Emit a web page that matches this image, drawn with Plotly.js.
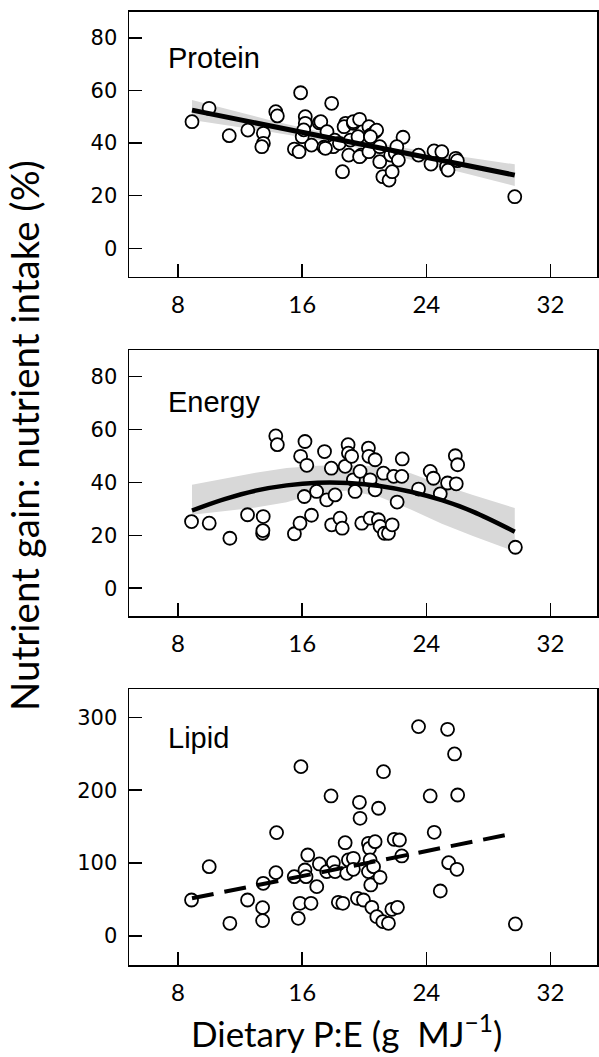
<!DOCTYPE html>
<html>
<head>
<meta charset="utf-8">
<script src="https://cdn.plot.ly/plotly-3.0.1.min.js"></script>
<style>
  html, body { margin: 0; padding: 0; background: #ffffff; }
  #chart { width: 599px; height: 1057px; }
</style>
</head>
<body>
<div id="chart"></div>
<script>
// ---------- Data ----------
const xTickVals = [8, 16, 24, 32];
const pctTickVals = [0, 20, 40, 60, 80];
const lipidTickVals = [0, 100, 200, 300];
const panelLabels = ["Protein", "Energy", "Lipid"];

// Protein panel
const proteinX = [8.9, 10.0, 11.3, 12.5, 13.5, 13.5, 13.4, 14.3, 14.4, 15.5, 15.8, 15.9, 16.0, 16.2, 16.2, 16.1, 16.6, 17.1, 17.2, 17.4, 17.6, 17.9, 18.1, 18.0, 17.5, 18.4, 18.8, 18.6, 18.7, 19.0, 19.1, 19.3, 19.3, 19.7, 19.6, 19.8, 19.7, 20.3, 20.4, 20.7, 20.3, 20.8, 20.4, 21.0, 21.0, 21.2, 21.6, 21.7, 21.8, 22.0, 22.2, 22.5, 22.1, 23.5, 24.3, 24.5, 25.0, 25.3, 25.4, 25.9, 26.0, 29.7];
const proteinY = [48.1, 53.2, 42.8, 44.9, 43.7, 39.9, 38.6, 51.9, 50.3, 37.7, 36.7, 59.1, 42.4, 50.0, 47.5, 45.0, 39.2, 47.7, 48.1, 38.4, 44.3, 55.1, 41.1, 38.6, 38.0, 39.9, 47.5, 29.1, 46.2, 35.4, 41.1, 47.5, 48.1, 49.0, 42.4, 35.4, 34.8, 46.2, 43.0, 44.3, 36.7, 44.9, 42.4, 38.6, 32.9, 27.2, 25.9, 35.4, 29.1, 36.1, 33.5, 42.2, 38.6, 35.4, 32.0, 37.0, 36.7, 31.0, 29.7, 34.2, 33.3, 19.6];
const proteinFitX = [8.9, 29.7];
const proteinFitY = [52.5, 27.8];
const proteinBandX = [8.9, 11.5, 14, 16.5, 19, 21.5, 24, 26.8, 29.7];
const proteinBandHi = [56.3, 52.3, 48.6, 45.1, 42.0, 39.2, 36.8, 34.4, 31.9];
const proteinBandLo = [48.7, 46.5, 44.2, 41.7, 39.0, 35.8, 32.2, 28.0, 23.7];

// Energy panel
const energyX = [8.87, 10.01, 11.34, 12.48, 13.49, 13.45, 13.47, 14.3, 14.4, 15.5, 15.86, 15.9, 16.18, 16.3, 16.14, 16.6, 16.93, 17.44, 17.58, 17.88, 17.9, 18.12, 18.44, 18.58, 18.77, 18.96, 18.98, 19.19, 19.3, 19.41, 19.73, 19.84, 20.27, 20.3, 20.38, 20.38, 20.7, 20.7, 20.91, 21.02, 21.3, 21.56, 21.24, 21.8, 21.9, 22.42, 22.45, 22.12, 23.5, 24.25, 24.46, 24.9, 25.37, 25.87, 26.02, 25.93, 29.74];
const energyY = [25.2, 24.6, 18.9, 27.8, 27.1, 20.8, 21.8, 57.6, 54.3, 20.6, 24.6, 49.9, 55.5, 46.5, 34.7, 27.6, 36.6, 51.7, 33.4, 45.4, 24.0, 35.3, 26.5, 22.7, 46.1, 54.3, 51.1, 49.9, 41.0, 36.6, 44.2, 24.6, 53.0, 49.9, 41.0, 26.5, 48.6, 37.2, 25.9, 23.4, 20.8, 20.8, 43.5, 24.0, 42.3, 42.3, 48.9, 32.6, 37.5, 44.2, 41.6, 35.7, 39.8, 50.1, 46.7, 39.5, 15.5];
const energyFitX = [8.9, 11, 13, 15, 17, 19, 21, 23, 25, 27, 29.7];
const energyFitY = [29.4, 33.7, 36.9, 38.9, 39.9, 39.8, 38.7, 36.5, 33.3, 29.0, 21.4];
const energyBandX = [8.9, 11, 13, 15, 17, 19, 21, 23, 25, 27, 29.7];
const energyBandHi = [39.1, 41.5, 43.7, 45.5, 46.3, 46.5, 46.0, 43.5, 39.1, 35.3, 30.3];
const energyBandLo = [27.8, 29.2, 30.5, 32.5, 36.0, 37.0, 34.5, 29.8, 24.4, 19.8, 13.9];

// Lipid panel
const lipidX = [8.87, 10.01, 11.34, 12.48, 13.45, 13.45, 13.49, 14.35, 14.31, 15.49, 15.75, 15.86, 15.92, 16.18, 16.36, 16.25, 16.57, 16.94, 17.11, 17.58, 17.86, 18.01, 18.12, 18.33, 18.62, 18.77, 18.87, 18.98, 19.30, 19.30, 19.56, 19.69, 19.73, 19.95, 20.27, 20.34, 20.38, 20.27, 20.42, 20.49, 20.6, 20.7, 20.81, 20.92, 21.02, 21.2, 21.24, 21.56, 21.78, 22.14, 21.93, 22.27, 22.42, 23.5, 24.25, 24.51, 24.9, 25.37, 25.44, 25.82, 25.97, 26.02, 29.74];
const lipidY = [49.4, 95.1, 17.4, 49.4, 38.9, 21.1, 72.3, 141.8, 86.9, 81.4, 24.2, 44.8, 232.3, 90.5, 111.1, 81.4, 44.8, 67.7, 98.8, 88.3, 192.1, 100.6, 88.3, 46.2, 44.8, 128.0, 86.0, 104.3, 106.6, 91.5, 51.7, 183.4, 161.4, 49.4, 127.1, 120.3, 104.3, 88.3, 70.0, 39.3, 95.1, 129.4, 26.5, 175.2, 80.5, 19.7, 225.4, 17.4, 36.6, 39.3, 132.6, 131.7, 109.8, 287.2, 192.1, 142.2, 61.7, 283.5, 100.6, 249.7, 91.5, 193.4, 16.5];
const lipidFitX = [8.9, 29.7];
const lipidFitY = [51.7, 140.9];

// ---------- Styling ----------
const BAND = 'rgb(216,216,216)';
const marker = { symbol: 'circle', size: 13, color: '#ffffff', line: { color: '#000000', width: 1.8 } };

function bandTraces(x, lo, hi, xa, ya) {
  return [
    { x: x, y: lo, xaxis: xa, yaxis: ya, type: 'scatter', mode: 'lines', line: { width: 0, color: BAND }, hoverinfo: 'skip', showlegend: false },
    { x: x, y: hi, xaxis: xa, yaxis: ya, type: 'scatter', mode: 'lines', line: { width: 0, color: BAND }, fill: 'tonexty', fillcolor: BAND, hoverinfo: 'skip', showlegend: false }
  ];
}
function pts(x, y, xa, ya) {
  return { x: x, y: y, xaxis: xa, yaxis: ya, type: 'scatter', mode: 'markers', marker: marker, showlegend: false };
}
function fit(x, y, xa, ya, dash, w, shape) {
  return { x: x, y: y, xaxis: xa, yaxis: ya, type: 'scatter', mode: 'lines', line: { color: '#000000', width: w, dash: dash, shape: shape || 'linear' }, showlegend: false };
}

const traces = [].concat(
  bandTraces(proteinBandX, proteinBandLo, proteinBandHi, 'x', 'y'),
  [pts(proteinX, proteinY, 'x', 'y'), fit(proteinFitX, proteinFitY, 'x', 'y', 'solid', 5)],
  bandTraces(energyBandX, energyBandLo, energyBandHi, 'x2', 'y2'),
  [pts(energyX, energyY, 'x2', 'y2'), fit(energyFitX, energyFitY, 'x2', 'y2', 'solid', 4.5, 'spline')],
  [pts(lipidX, lipidY, 'x3', 'y3'), fit(lipidFitX, lipidFitY, 'x3', 'y3', '22px,11px', 4)]
);

const H = 1057;
function dom(topPx, botPx) { return [1 - botPx / H, 1 - topPx / H]; }

const tickFontY = { family: 'DejaVu Sans', size: 21, color: '#000000' };
const tickFontX = { family: 'Lato', size: 24, color: '#000000' };

function xAxis(anchor) {
  return {
    domain: [0, 1], range: [4.84, 35.0], anchor: anchor,
    tickmode: 'array', tickvals: xTickVals, ticktext: xTickVals.map(String),
    ticks: 'inside', ticklen: 13, tickwidth: 1.5, tickcolor: '#000000',
    showline: true, linecolor: '#000000', linewidth: 1.5, mirror: true,
    showgrid: false, zeroline: false, tickfont: tickFontX, ticklabelstandoff: 6
  };
}
function yAxis(anchor, domain, range, vals) {
  return {
    domain: domain, range: range, anchor: anchor,
    tickmode: 'array', tickvals: vals, ticktext: vals.map(String),
    ticks: 'inside', ticklen: 13, tickwidth: 1.5, tickcolor: '#000000',
    showline: true, linecolor: '#000000', linewidth: 1.5, mirror: true,
    showgrid: false, zeroline: false, tickfont: tickFontY, ticklabelstandoff: 6
  };
}

const labelFont = { family: 'Liberation Sans', size: 29, color: '#000000' };
const yTitleFont = { family: 'Lato', size: 38.5, color: '#000000' };
const xTitleFont = { family: 'Lato', size: 35, color: '#000000' };
const layout = {
  width: 599, height: 1057,
  margin: { l: 129, r: 2, t: 0, b: 0 },
  paper_bgcolor: '#ffffff', plot_bgcolor: '#ffffff',
  showlegend: false,
  xaxis: xAxis('y'),
  yaxis: yAxis('x', dom(11.7, 276.7), [-10.8, 89.9], pctTickVals),
  xaxis2: xAxis('y2'),
  yaxis2: yAxis('x2', dom(350, 616), [-10.5, 90.1], pctTickVals),
  xaxis3: xAxis('y3'),
  yaxis3: yAxis('x3', dom(689.3, 965), [-39.8, 338.4], lipidTickVals),
  annotations: [
    { text: panelLabels[0], xref: 'x domain', yref: 'y domain', x: 0.08, y: 0.825, xanchor: 'left', yanchor: 'middle', showarrow: false, font: labelFont },
    { text: panelLabels[1], xref: 'x2 domain', yref: 'y2 domain', x: 0.08, y: 0.805, xanchor: 'left', yanchor: 'middle', showarrow: false, font: labelFont },
    { text: panelLabels[2], xref: 'x3 domain', yref: 'y3 domain', x: 0.08, y: 0.825, xanchor: 'left', yanchor: 'middle', showarrow: false, font: labelFont },
    { text: 'Nutrient gain: nutrient intake (%)', xref: 'paper', yref: 'paper', x: -129 / 468 + 24 / 468, y: 1 - 436 / H, xanchor: 'center', yanchor: 'middle', textangle: -90, showarrow: false, font: yTitleFont },
    { text: 'Dietary P:E (g&nbsp; MJ<sup>−1</sup>)', xref: 'paper', yref: 'paper', x: (346 - 129) / 468, y: 0, xanchor: 'center', yanchor: 'bottom', yshift: 1, showarrow: false, font: xTitleFont }
  ]
};

Plotly.newPlot('chart', traces, layout, { staticPlot: true, displayModeBar: false });
</script>
</body>
</html>
